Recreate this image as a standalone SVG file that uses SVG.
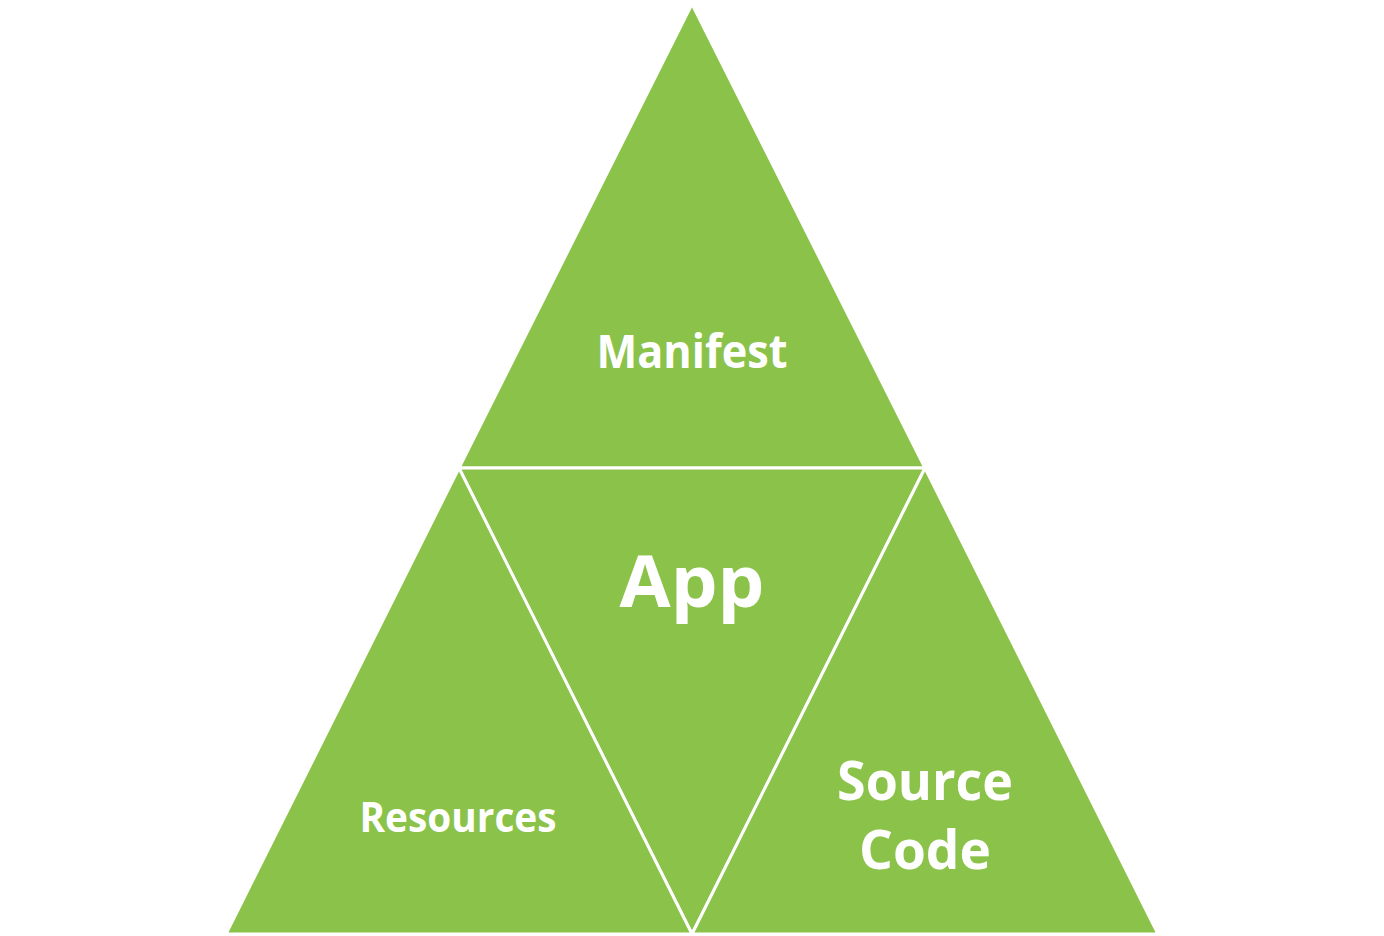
<svg xmlns="http://www.w3.org/2000/svg" width="1384" height="936" viewBox="0 0 1384 936">
<style>
.tri{fill:#8BC34A;stroke:#FFFFFF;stroke-width:3;stroke-linejoin:miter}
.lbl{font-family:"Open Sans","Liberation Sans",sans-serif;font-weight:bold;fill:#FFFFFF;text-anchor:middle}
</style>
<rect width="1384" height="936" fill="#FFFFFF"/>
<g id="manifest">
<polygon class="tri" points="692,4 459,468 925,468"/>
<text class="lbl" x="692" y="368" font-size="46" textLength="191" lengthAdjust="spacingAndGlyphs">Manifest</text>
</g>
<g id="app">
<polygon class="tri" points="459,468 925,468 692,934"/>
<text class="lbl" x="692" y="607" font-size="72" textLength="145" lengthAdjust="spacingAndGlyphs">App</text>
</g>
<g id="resources">
<polygon class="tri" points="459,468 226,934 692,934"/>
<text class="lbl" x="458" y="832" font-size="42" textLength="197" lengthAdjust="spacingAndGlyphs">Resources</text>
</g>
<g id="source-code">
<polygon class="tri" points="925,468 692,934 1158,934"/>
<text class="lbl" x="925" y="800" font-size="54" textLength="176" lengthAdjust="spacingAndGlyphs">Source</text>
<text class="lbl" x="925" y="869" font-size="54" textLength="132" lengthAdjust="spacingAndGlyphs">Code</text>
</g>
<g id="connectors"></g>
</svg>
